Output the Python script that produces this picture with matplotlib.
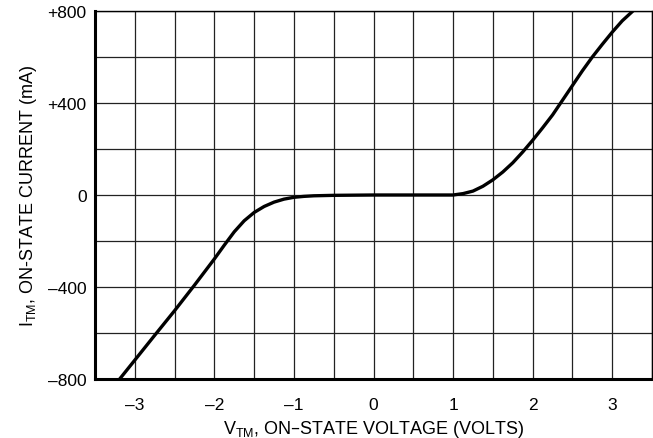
import numpy as np
import matplotlib.pyplot as plt
from matplotlib.ticker import MultipleLocator

plt.rcParams['font.family'] = ['Liberation Sans', 'DejaVu Sans']
plt.rcParams['mathtext.default'] = 'regular'

# on-state voltage (V) vs on-state current (mA)
v_tm = [-3.19, -3.0, -2.75, -2.5, -2.25, -2.0, -1.875, -1.75, -1.625, -1.5,
        -1.375, -1.25, -1.125, -1.0, -0.875, -0.75, -0.5, 0.0, 0.5, 0.75,
        1.0, 1.125, 1.25, 1.375, 1.5, 1.625, 1.75, 1.875, 2.0, 2.125,
        2.25, 2.375, 2.5, 2.625, 2.75, 2.875, 3.0, 3.125, 3.26]
i_tm = [-800, -718, -610, -503, -392, -278, -218, -160, -112, -76,
        -50, -31, -18, -10, -6, -3.5, -1.5, 0, 0, 0,
        0, 6, 17, 38, 66, 100, 140, 187, 238, 292,
        348, 412, 476, 540, 600, 655, 708, 757, 800]

x_ticks = [-3, -2, -1, 0, 1, 2, 3]
x_labels = ['\u20133', '\u20132', '\u20131', '0', '1', '2', '3']
y_ticks = [-800, -400, 0, 400, 800]
y_labels = ['\u2013800', '\u2013400', '0', '+400', '+800']

fig = plt.figure(figsize=(6.53, 4.39), dpi=100)
ax = fig.add_axes([0.1455, 0.1344, 0.853, 0.8383])

ax.plot(v_tm, i_tm, color='black', lw=2.4, solid_joinstyle='round', zorder=3)

ax.set_xlim(-3.5, 3.5)
ax.set_ylim(-800, 800)
ax.set_xticks(x_ticks)
ax.set_xticklabels(x_labels)
ax.set_yticks(y_ticks)
ax.set_yticklabels(y_labels)
ax.xaxis.set_minor_locator(MultipleLocator(0.5))
ax.yaxis.set_minor_locator(MultipleLocator(200))
ax.grid(True, which='both', color='#222222', lw=0.9)
ax.tick_params(which='both', length=0)
ax.tick_params(axis='x', pad=13, labelsize=12.5)
ax.tick_params(axis='y', pad=6, labelsize=12.5)

for s in ['left', 'bottom']:
    ax.spines[s].set_linewidth(2.2)
ax.spines['top'].set_linewidth(1.0)
ax.spines['right'].set_linewidth(1.0)

ax.set_xlabel('V$_{TM}$, ON\u2013STATE VOLTAGE (VOLTS)', fontsize=13, labelpad=4)
ax.set_ylabel('I$_{TM}$, ON-STATE CURRENT (mA)', fontsize=13, labelpad=6)

fig.savefig('out.png', dpi=100)
